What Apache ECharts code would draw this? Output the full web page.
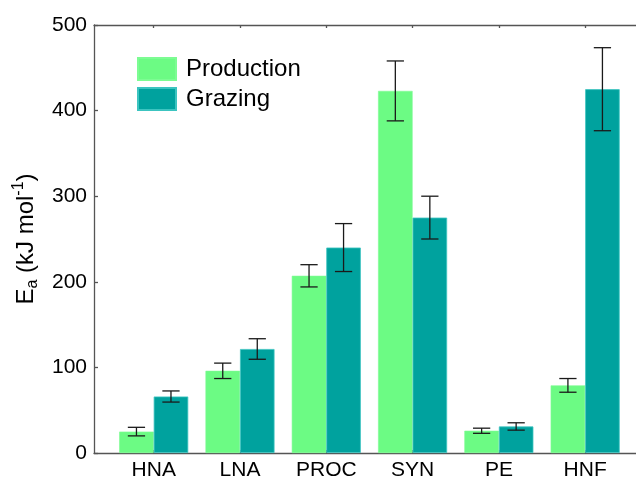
<!DOCTYPE html>
<html>
<head>
<meta charset="utf-8">
<script src="https://cdn.jsdelivr.net/npm/echarts@6/dist/echarts.min.js"></script>
<style>html,body{margin:0;padding:0;background:#fff}#c{width:636px;height:481px}</style>
</head>
<body>
<div id="c"></div>
<script>
var categories = ['HNA', 'LNA', 'PROC', 'SYN', 'PE', 'HNF'];
var production = [25, 96, 207, 423, 26, 79];
var productionErr = [5, 9, 13, 35, 3, 8];
var grazing = [66, 121.5, 240, 275, 31, 425];
var grazingErr = [6.5, 12, 28, 25, 4.3, 48.5];
var yTicks = [0, 100, 200, 300, 400, 500];
var seriesNames = ['Production', 'Grazing'];

var FONT = 'Liberation Sans, Arial, sans-serif';
var BAR_FRAC = 0.4;
var catIdx = categories.map(function (c, i) { return i; });

function barData(vals) {
  return vals.map(function (v, i) { return [i, v]; });
}
function errData(vals, errs) {
  return vals.map(function (v, i) { return [i, v - errs[i], v + errs[i]]; });
}
function errRender(side) {
  return function (params, api) {
    var i = api.value(0);
    var lo = api.coord([i, api.value(1)]);
    var hi = api.coord([i, api.value(2)]);
    var band = api.size([1, 0])[0];
    var bw = band * BAR_FRAC;
    var x = lo[0] + side * bw / 2;
    var cap = bw * 0.25;
    var st = { stroke: '#1a1a1a', lineWidth: 1.3 };
    return {
      type: 'group',
      children: [
        { type: 'line', shape: { x1: x, y1: lo[1], x2: x, y2: hi[1] }, style: st },
        { type: 'line', shape: { x1: x - cap, y1: lo[1], x2: x + cap, y2: lo[1] }, style: st },
        { type: 'line', shape: { x1: x - cap, y1: hi[1], x2: x + cap, y2: hi[1] }, style: st }
      ]
    };
  };
}

var axisLineStyle = { color: '#555', width: 1.3 };
var chart = echarts.init(document.getElementById('c'), null, { renderer: 'canvas' });
chart.setOption({
  animation: false,
  backgroundColor: '#fff',
  textStyle: { fontFamily: FONT },
  grid: { left: 94, right: 0, top: 25, bottom: 28 },
  legend: {
    data: seriesNames,
    orient: 'vertical',
    left: 137, top: 57, padding: 0,
    itemWidth: 38, itemHeight: 22, itemGap: 6,
    icon: 'rect',
    textStyle: { fontSize: 24, color: '#000', fontFamily: FONT, padding: [0, 0, 0, 5] }
  },
  xAxis: [{
    type: 'value', position: 'bottom',
    min: -0.692, max: 5.589,
    splitLine: { show: false },
    axisLine: { show: true, onZero: false, lineStyle: axisLineStyle },
    axisTick: { show: true, inside: true, length: 3, customValues: catIdx, lineStyle: axisLineStyle },
    axisLabel: {
      customValues: catIdx, margin: 7, fontSize: 21, color: '#000', fontFamily: FONT,
      formatter: function (v) { return categories[Math.round(v)] || ''; }
    }
  }, {
    type: 'value', position: 'top',
    min: -0.692, max: 5.589,
    splitLine: { show: false },
    axisLine: { show: true, onZero: false, lineStyle: axisLineStyle },
    axisTick: { show: true, inside: true, length: 3, customValues: catIdx, lineStyle: axisLineStyle },
    axisLabel: { show: false, customValues: catIdx }
  }],
  yAxis: {
    type: 'value', min: yTicks[0], max: yTicks[yTicks.length - 1], interval: 100,
    splitLine: { show: false },
    axisLine: { show: true, onZero: false, lineStyle: axisLineStyle },
    axisTick: { show: true, inside: true, length: 4, lineStyle: axisLineStyle },
    axisLabel: { fontSize: 21, color: '#000', margin: 7, fontFamily: FONT },
    name: '{n|E}{sub|a}{n| (kJ mol}{sup|-1}{n|)}',
    nameLocation: 'middle',
    nameGap: 52,
    nameTextStyle: {
      fontFamily: FONT,
      rich: {
        n: { fontSize: 24, color: '#000', fontFamily: FONT, lineHeight: 30, verticalAlign: 'middle' },
        sub: { fontSize: 16, color: '#000', fontFamily: FONT, verticalAlign: 'bottom', lineHeight: 30 },
        sup: { fontSize: 16, color: '#000', fontFamily: FONT, verticalAlign: 'top', lineHeight: 30 }
      }
    }
  },
  series: [{
    name: seriesNames[0], type: 'bar', xAxisIndex: 0,
    data: barData(production),
    barWidth: (BAR_FRAC * 100) + '%', barGap: '0%',
    itemStyle: { color: '#6cfb84', borderColor: '#7dfc93', borderWidth: 0.6 }
  }, {
    name: seriesNames[1], type: 'bar', xAxisIndex: 0,
    data: barData(grazing),
    barWidth: (BAR_FRAC * 100) + '%', barGap: '0%',
    itemStyle: { color: '#00a29e', borderColor: '#3cc4c0', borderWidth: 0.8 }
  }, {
    type: 'custom', xAxisIndex: 0, z: 5,
    renderItem: errRender(-1),
    encode: { x: 0, y: [1, 2] },
    data: errData(production, productionErr)
  }, {
    type: 'custom', xAxisIndex: 0, z: 5,
    renderItem: errRender(1),
    encode: { x: 0, y: [1, 2] },
    data: errData(grazing, grazingErr)
  }]
});
</script>
</body>
</html>
